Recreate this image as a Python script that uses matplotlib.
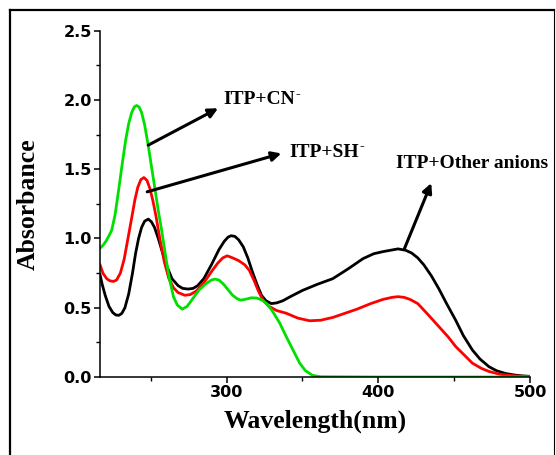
import numpy as np
import matplotlib
matplotlib.use("Agg")
import matplotlib.pyplot as plt
from matplotlib.lines import Line2D
from matplotlib.ticker import MultipleLocator

# ITP + other anions (black)
wl_other = [216.6, 218, 220, 222.5, 225, 227, 229, 231, 233, 235.5, 238, 240, 242, 244, 246, 248.4,
            250.5, 252.5, 255, 258, 261, 264, 268, 271, 274.7, 278, 281, 285, 290, 295, 298.5,
            301, 303, 305.5, 308, 311, 314, 317, 320, 323, 326, 329.5, 333, 337, 342, 350, 360,
            370, 380, 390, 397, 403, 408, 413, 418, 422, 426, 430, 435, 440, 445, 451, 456, 462,
            467, 473, 478, 484, 490, 495, 500]
abs_other = [0.74, 0.67, 0.59, 0.51, 0.465, 0.448, 0.445, 0.46, 0.50, 0.60, 0.75, 0.89, 1.00, 1.08, 1.125, 1.14,
             1.12, 1.08, 1.00, 0.89, 0.79, 0.71, 0.66, 0.64, 0.635, 0.64, 0.66, 0.71, 0.81, 0.92, 0.98,
             1.01, 1.02, 1.015, 0.99, 0.94, 0.86, 0.76, 0.67, 0.59, 0.55, 0.53, 0.535, 0.55, 0.58, 0.625, 0.67,
             0.71, 0.78, 0.855, 0.89, 0.905, 0.915, 0.925, 0.915, 0.895, 0.86, 0.81, 0.73, 0.635, 0.53, 0.41, 0.30, 0.195,
             0.13, 0.074, 0.045, 0.025, 0.014, 0.008, 0.005]

# ITP + SH- (red)
wl_sh = [216.6, 218.5, 221, 223, 225.4, 227.5, 230, 232.5, 235, 237.5, 239.6, 241.5, 243.5, 245.5, 247.5,
         249.5, 251.5, 253.5, 256, 259, 262, 265, 268, 272.5, 276, 280, 285, 290, 294, 297.5, 300.4,
         304, 308, 312, 315, 318, 321, 324, 328, 333, 339.4, 347, 354.8, 362, 370, 378, 386, 395, 403,
         409, 413, 417, 421, 426, 432, 440, 446, 451, 457, 462, 468, 473, 480, 490, 500]
abs_sh = [0.81, 0.75, 0.71, 0.695, 0.69, 0.70, 0.75, 0.85, 1.00, 1.15, 1.28, 1.37, 1.425, 1.44, 1.42,
          1.36, 1.27, 1.16, 1.00, 0.83, 0.71, 0.645, 0.61, 0.59, 0.595, 0.62, 0.68, 0.76, 0.82, 0.86, 0.875,
          0.86, 0.84, 0.81, 0.77, 0.70, 0.62, 0.555, 0.51, 0.48, 0.46, 0.425, 0.406, 0.41, 0.43, 0.46, 0.49, 0.53, 0.56,
          0.575, 0.58, 0.575, 0.56, 0.53, 0.46, 0.363, 0.29, 0.22, 0.155, 0.10, 0.062, 0.04, 0.02, 0.008, 0.003]

# ITP + CN- (green)
wl_cn = [216.6, 218.5, 220.5, 222.5, 224.3, 226.5, 229, 231.5, 233.5, 235.5, 237.5, 239.2, 240.7, 242.3, 244,
         246, 248.4, 250.5, 252.5, 255, 257.2, 260, 262.5, 265, 267.5, 270.8, 274, 278, 282, 286, 290,
         292.3, 295, 298, 301, 304, 307, 309.2, 312, 316.4, 320, 323.5, 326.3, 330, 335, 339.4, 344,
         348.2, 352, 356.7, 362, 400, 450, 500]
abs_cn = [0.93, 0.95, 0.98, 1.02, 1.06, 1.17, 1.36, 1.56, 1.71, 1.83, 1.91, 1.95, 1.96, 1.95, 1.91,
          1.82, 1.67, 1.52, 1.38, 1.20, 1.06, 0.86, 0.70, 0.58, 0.52, 0.49, 0.51, 0.57, 0.63, 0.67, 0.70,
          0.707, 0.70, 0.67, 0.63, 0.59, 0.565, 0.555, 0.56, 0.572, 0.57, 0.555, 0.53, 0.48, 0.39, 0.29, 0.19,
          0.10, 0.045, 0.012, 0.002, 0.0, 0.0, 0.0]

fig = plt.figure(figsize=(5.56, 4.55), dpi=100)
ax = fig.add_axes([0.1799, 0.1714, 0.7734, 0.7611])

ax.plot(wl_other, abs_other, color='black', lw=2.0)
ax.plot(wl_sh, abs_sh, color='#ff0000', lw=2.0)
ax.plot(wl_cn, abs_cn, color='#00e000', lw=2.0)

ax.set_xlim(216.6, 500)
ax.set_ylim(0, 2.5)
ax.spines['top'].set_visible(False)
ax.spines['right'].set_visible(False)
for s in ['left', 'bottom']:
    ax.spines[s].set_linewidth(1.1)

ax.xaxis.set_major_locator(MultipleLocator(100))
ax.xaxis.set_minor_locator(MultipleLocator(50))
ax.yaxis.set_major_locator(MultipleLocator(0.5))
ax.yaxis.set_minor_locator(MultipleLocator(0.25))
ax.yaxis.set_major_formatter(matplotlib.ticker.FormatStrFormatter('%.1f'))
ax.tick_params(which='major', direction='out', length=4, width=1.1, labelsize=11.5, pad=2)
ax.tick_params(which='minor', direction='out', length=3, width=1.0)
for lab in ax.get_xticklabels() + ax.get_yticklabels():
    lab.set_fontweight('bold')
    lab.set_family('DejaVu Sans')

ax.set_xlabel('Wavelength(nm)', family='Liberation Serif', fontweight='bold', fontsize=18.5, labelpad=7)
ax.set_ylabel('Absorbance', family='Liberation Serif', fontweight='bold', fontsize=18.5, labelpad=17)

arrow = dict(arrowstyle='-|>', color='black', lw=2.2, mutation_scale=14, shrinkA=0, shrinkB=0)
tfont = dict(family='Liberation Serif', fontweight='bold', fontsize=14, va='center', ha='left')

ax.annotate('', xy=(294.4, 1.94), xytext=(248.4, 1.674), arrowprops=arrow)
t_cn = ax.text(297.7, 2.0, 'ITP+CN', **tfont)
ax.annotate('', xy=(336.1, 1.614), xytext=(247.7, 1.337), arrowprops=arrow)
t_sh = ax.text(341.5, 1.62, 'ITP+SH', **tfont)
ax.annotate('', xy=(434.9, 1.40), xytext=(417.3, 0.929), arrowprops=arrow)
ax.text(411.8, 1.54, 'ITP+Other anions', clip_on=False, **tfont)

# small superscript minus after the ion names
fig.canvas.draw()
for t in [t_cn, t_sh]:
    bb = t.get_window_extent()
    fig.text(bb.x1 + 0.5, bb.y1 - 3, '-', transform=None, family='Liberation Serif',
             fontweight='bold', fontsize=10, ha='left', va='center')

# outer frame
fig.add_artist(Line2D([0.018, 0.018], [-0.01, 0.978], color='black', lw=1.6, transform=fig.transFigure))
fig.add_artist(Line2D([0.018, 0.9964], [0.978, 0.978], color='black', lw=1.6, transform=fig.transFigure))
fig.add_artist(Line2D([0.9964, 0.9964], [-0.01, 0.978], color='black', lw=0.8, transform=fig.transFigure))

fig.savefig('out.png', dpi=100)
